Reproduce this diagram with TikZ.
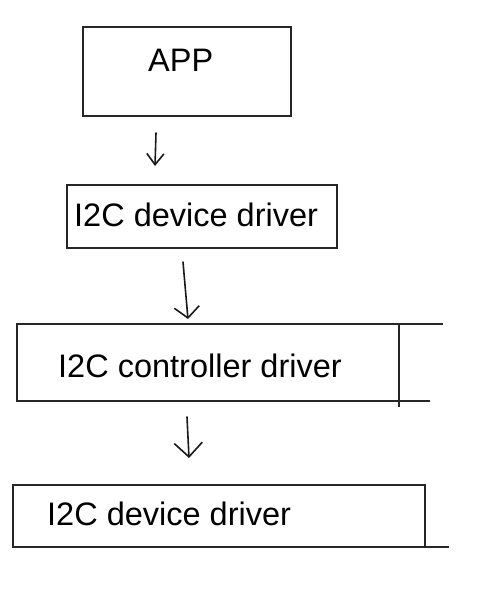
\documentclass[tikz,border=0pt]{standalone}
\usepackage{fontspec}
\setmainfont{Liberation Sans}
\usetikzlibrary{arrows.meta}
\begin{document}
\begin{tikzpicture}[x=1pt,y=-1pt,
  boxnode/.style={draw=black!85, line width=1.8pt, minimum width=#1, inner sep=0pt, outer sep=0pt},
  lbl/.style={anchor=base west, inner sep=0pt, font=\fontsize{32.5pt}{36pt}\selectfont, text=black},
  hand/.style={line width=1.6pt, line cap=round, line join=round, draw=black!90},
  ext/.style={line width=1.8pt, draw=black!85}]
\useasboundingbox[fill=white] (0,0) rectangle (489,594);
% boxes
\node[boxnode=208pt, minimum height=89pt] (b1) at (187,71.5) {};
\node[boxnode=270pt, minimum height=63pt] (b2) at (202,216.5) {};
\node[boxnode=382pt, minimum height=77pt] (b3) at (208,362.5) {};
\node[boxnode=412pt, minimum height=62pt] (b4) at (219,516) {};
% labels
\node[lbl] (t1) at (148,71.7) {APP};
\node[lbl] (t2) at (74,226.7) {I2C device driver};
\node[lbl] (t3) at (58,377) {I2C controller driver};
\node[lbl] (t4) at (47,525) {I2C device driver};
% extension lines
\coordinate (e3top) at (443,324);
\coordinate (e3bot) at (430,401);
\coordinate (e3down) at (399,407);
\coordinate (e4bot) at (449,547);
\draw[ext] (b3.north east) -- (e3top);
\draw[ext] (b3.south east) -- (e3bot);
\draw[ext] (b3.south east) -- (e3down);
\draw[ext] (b4.south east) -- (e4bot);
% arrows
\coordinate (a1s) at (156,133);
\coordinate (a1e) at (155,166);
\coordinate (a2s) at (183,262);
\coordinate (a2e) at (188,319);
\coordinate (a3s) at (187,417);
\coordinate (a3e) at (189,458);
\draw[hand, -{Straight Barb[length=11pt,width=17pt,line width=1.6pt]}] (a1s) -- (a1e);
\draw[hand, -{Straight Barb[length=11pt,width=25pt,line width=1.6pt]}] (a2s) .. controls (185,290) .. (a2e);
\draw[hand, -{Straight Barb[length=14pt,width=28pt,line width=1.6pt]}] (a3s) -- (a3e);
\end{tikzpicture}
\end{document}
